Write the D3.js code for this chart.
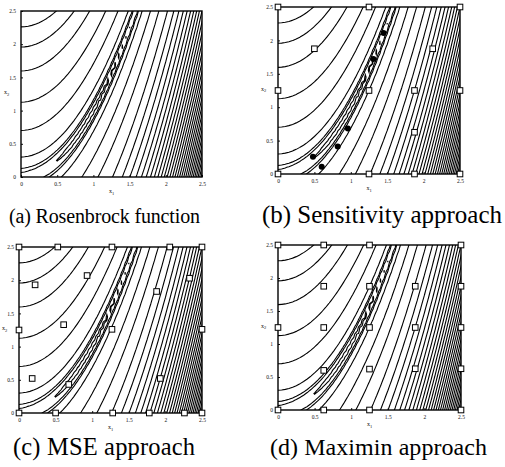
<!DOCTYPE html>
<html>
<head>
<meta charset="utf-8">
<script src="https://cdnjs.cloudflare.com/ajax/libs/d3/7.8.5/d3.min.js"></script>
<style>
  body { margin: 0; background: #fff; }
  svg { display: block; }
  .tick text { font-family: "Liberation Serif", "DejaVu Serif", serif; font-size: 5.5px; fill: #111; }
  .caption { font-family: "Liberation Serif", "Times New Roman", serif; fill: #000; }
</style>
</head>
<body>
<div id="chart"></div>
<script>
// axis ticks (both axes run 0..2.5)
const tickValues = [0, 0.5, 1, 1.5, 2, 2.5];
const tickLabels = ["0", "0.5", "1", "1.5", "2", "2.5"];

// contour levels of the Rosenbrock function
const contourLevels = [0.3, 1.5, 2.7, 10, 50,
  128, 256, 384, 512, 640, 768, 896, 1024, 1152, 1280,
  1408, 1536, 1664, 1792, 1920, 2048, 2176, 2304, 2432, 2560,
  2688, 2816, 2944, 3072, 3200, 3328, 3456, 3584, 3712, 3840];

const captions = ["(a) Rosenbrock function", "(b) Sensitivity approach",
                  "(c) MSE approach", "(d) Maximin approach"];

// sample points [x1, x2]
const sensitivitySquares = [[0, 2.5], [1.25, 2.5], [2.5, 2.5], [0.5, 1.875], [2.125, 1.875],
  [0, 1.25], [1.25, 1.25], [1.875, 1.25], [2.5, 1.25], [1.875, 0.625],
  [0, 0], [1.25, 0], [1.875, 0], [2.5, 0]];
const sensitivityDots = [[1.45, 2.11], [1.31, 1.72], [0.96, 0.68], [0.82, 0.41], [0.48, 0.26], [0.6, 0.11]];

const mseSquares = [[0, 2.5], [0.53, 2.5], [1.27, 2.5], [2.06, 2.5], [2.5, 2.5],
  [0.22, 1.93], [0.93, 2.07], [1.88, 1.83], [2.33, 2.03],
  [0.61, 1.33], [0, 1.25], [1.27, 1.26], [2.5, 1.26],
  [0.18, 0.52], [1.93, 0.52], [0.68, 0.43],
  [0, 0], [0.5, 0], [1.28, 0], [1.78, 0], [2.26, 0], [2.5, 0]];

const maximinSquares = [[0, 2.5], [0.625, 2.5], [1.25, 2.5], [2.5, 2.5],
  [0.625, 1.875], [1.25, 1.875], [1.875, 1.875], [2.5, 1.875],
  [0, 1.25], [0.625, 1.25], [1.25, 1.25], [1.875, 1.25], [2.5, 1.25],
  [0.625, 0.6], [1.25, 0.62], [1.875, 0.625], [2.5, 0.625],
  [0, 0], [0.625, 0], [1.25, 0], [2.5, 0]];

// panel layout
const panels = [
  { box: [21, 11, 202, 177], cap: [9, 223, 20, 191], squares: [], dots: [] },
  { box: [278, 7, 460, 174], cap: [262, 223, 25, 240], squares: sensitivitySquares, dots: sensitivityDots },
  { box: [19, 247, 202, 413], cap: [13, 455, 24.5, 182], squares: mseSquares, dots: [] },
  { box: [278, 245, 461, 410], cap: [270, 455, 24, 217], squares: maximinSquares, dots: [] }
];

const width = 505, height = 467;

const svg = d3.select("#chart").append("svg")
    .attr("width", width)
    .attr("height", height);
svg.append("rect").attr("width", width).attr("height", height).attr("fill", "#fff");

// Rosenbrock field on a grid (slightly larger than the plot window)
function rosen(a, b) { return 100 * (b - a * a) * (b - a * a) + (1 - a) * (1 - a); }
const step = 0.05, lo = -0.1;
const n = Math.round((2.7 - lo) / step) + 1;
const values = new Array(n * n);
for (let j = 0; j < n; j++)
    for (let i = 0; i < n; i++)
        values[j * n + i] = rosen(lo + i * step, lo + j * step);

const contours = d3.contours().size([n, n]).thresholds(contourLevels)(values);

panels.forEach(function (p, k) {
    const [x0, y0, x1, y1] = p.box;
    const x = d3.scaleLinear().domain([0, 2.5]).range([x0, x1]);
    const y = d3.scaleLinear().domain([0, 2.5]).range([y1, y0]);
    const g = svg.append("g");

    g.append("clipPath").attr("id", "clip" + k)
        .append("rect").attr("x", x0).attr("y", y0).attr("width", x1 - x0).attr("height", y1 - y0);

    const line = d3.line()
        .x(function (d) { return x(lo + (d[0] - 0.5) * step); })
        .y(function (d) { return y(lo + (d[1] - 0.5) * step); });

    g.append("g")
        .attr("clip-path", "url(#clip" + k + ")")
        .attr("fill", "none")
        .attr("stroke", "#000")
        .attr("stroke-width", 1.1)
        .selectAll("path")
        .data(contours)
        .enter().append("path")
        .attr("d", function (c) {
            return c.coordinates.map(function (poly) {
                return poly.map(function (ring) { return line(ring) + "Z"; }).join("");
            }).join("");
        });

    // axes
    const ax = g.append("g").attr("transform", "translate(0," + y1 + ")")
        .call(d3.axisBottom(x).tickValues(tickValues).tickSize(-2).tickPadding(5)
            .tickFormat(function (d, i) { return tickLabels[i]; }));
    const ay = g.append("g").attr("transform", "translate(" + x0 + ",0)")
        .call(d3.axisLeft(y).tickValues(tickValues).tickSize(-2).tickPadding(5)
            .tickFormat(function (d, i) { return tickLabels[i]; }));
    [ax, ay].forEach(function (a) {
        a.select(".domain").remove();
        a.selectAll("line").attr("stroke", "#111");
        a.selectAll("text").attr("font-size", null).attr("font-family", null).attr("fill", "#111");
    });

    g.append("rect")
        .attr("x", x0).attr("y", y0).attr("width", x1 - x0).attr("height", y1 - y0)
        .attr("fill", "none").attr("stroke", "#000").attr("stroke-width", 1.4);

    // axis labels
    const xl = g.append("text").attr("x", (x0 + x1) / 2).attr("y", y1 + 16)
        .attr("text-anchor", "middle").attr("font-family", "Liberation Serif").attr("font-size", 6).attr("fill", "#111");
    xl.append("tspan").text("x");
    xl.append("tspan").attr("font-size", 4.5).attr("dy", 1.5).text("1");
    const yl = g.append("text").attr("x", x0 - 17).attr("y", (y0 + y1) / 2)
        .attr("font-family", "Liberation Serif").attr("font-size", 6).attr("fill", "#111");
    yl.append("tspan").text("x");
    yl.append("tspan").attr("font-size", 4.5).attr("dy", 1.5).text("2");

    // sample points
    g.selectAll(".sq").data(p.squares).enter().append("rect")
        .attr("class", "sq")
        .attr("x", function (d) { return x(d[0]) - 2.8; })
        .attr("y", function (d) { return y(d[1]) - 2.8; })
        .attr("width", 5.6).attr("height", 5.6)
        .attr("fill", "#fff").attr("stroke", "#000").attr("stroke-width", 1);
    g.selectAll(".dot").data(p.dots).enter().append("circle")
        .attr("class", "dot")
        .attr("cx", function (d) { return x(d[0]); })
        .attr("cy", function (d) { return y(d[1]); })
        .attr("r", 3).attr("fill", "#000");

    svg.append("text").attr("class", "caption")
        .attr("x", p.cap[0]).attr("y", p.cap[1])
        .attr("font-size", p.cap[2])
        .attr("textLength", p.cap[3])
        .text(captions[k]);
});
</script>
</body>
</html>
